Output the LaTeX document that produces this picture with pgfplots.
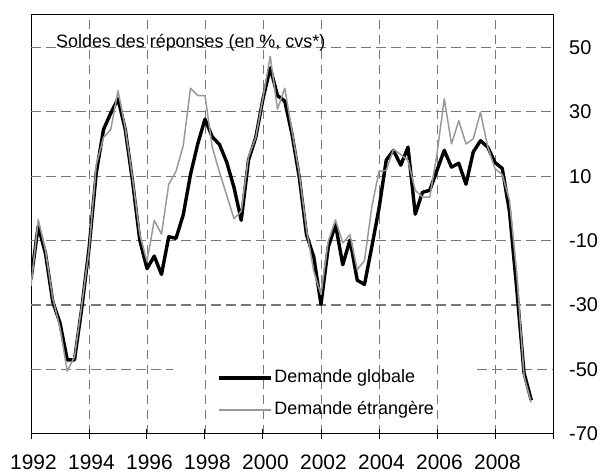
\documentclass[border=0pt]{standalone}
\usepackage{pgfplots}
\pgfplotsset{compat=1.18}
\usepackage{pgfplotstable}
\usepackage{fontspec}
\setmainfont{Liberation Sans}
\definecolor{lgray}{RGB}{153,153,153}
\definecolor{ggrid}{RGB}{120,120,120}

\pgfplotstableread{
year glob etr
1992.00 -22 -24
1992.25 -5.5 -3.5
1992.50 -14 -13
1992.75 -29 -28
1993.00 -35.5 -37
1993.25 -47 -50.5
1993.50 -47 -46
1993.75 -31 -30
1994.00 -12.5 -13
1994.25 11 13.5
1994.50 24.5 22
1994.75 29.5 24.5
1995.00 34 36.5
1995.25 24.5 25
1995.50 8.5 9.5
1995.75 -9.8 -8
1996.00 -18.7 -16.5
1996.25 -14.8 -3.7
1996.50 -20.5 -8
1996.75 -8.8 7.5
1997.00 -9.3 11.5
1997.25 -2 19.5
1997.50 10.5 37.3
1997.75 20 35
1998.00 27.7 35
1998.25 22.2 19
1998.50 19.8 11.2
1998.75 14.3 4
1999.00 6.5 -3.2
1999.25 -3.7 -0.9
1999.50 15 16
1999.75 22 22
2000.00 34 34.3
2000.25 43.6 47.2
2000.50 35 30.8
2000.75 33.3 37.3
2001.00 23 24
2001.25 9.7 10.8
2001.50 -8.2 -6.6
2001.75 -15 -19.5
2002.00 -29.8 -26.7
2002.25 -12 -10.2
2002.50 -5 -3.6
2002.75 -17.5 -10.7
2003.00 -9.8 -8.2
2003.25 -22.3 -19
2003.50 -23.6 -16.2
2003.75 -12 0.4
2004.00 0 11.5
2004.25 15 11.8
2004.50 18 18.4
2004.75 13.4 16.7
2005.00 19 14.9
2005.25 -1.8 5.6
2005.50 5 3.5
2005.75 5.6 3.5
2006.00 11.8 17
2006.25 18 34
2006.50 12.8 20
2006.75 14 27.2
2007.00 7.5 20
2007.25 17.5 21.6
2007.50 21 29.8
2007.75 19 19
2008.00 14.2 12.3
2008.25 12.4 10.5
2008.50 -1 2.5
2008.75 -25 -20
2009.00 -51 -52
2009.25 -59.5 -60.2
}\data

\begin{document}
\begin{tikzpicture}
\path[use as bounding box] (-31bp,-40bp) rectangle (573bp,434bp);
\begin{axis}[
  scale only axis,
  width=522bp, height=419bp,
  xmin=1992, xmax=2010, ymin=-70, ymax=60,
  xtick={1992,1994,...,2010},
  xticklabels={1992,1994,1996,1998,2000,2002,2004,2006,2008,{}},
  ytick={-70,-50,-30,-10,10,30,50},
  yticklabels={-70,-50,-30,-10,10,30,50},
  xtick pos=bottom, ytick pos=right,
  yticklabel pos=right,
  major tick length=10bp,
  x tick style={black, line width=1bp},
  xtick align=center,
  y tick style={draw=none},
  xticklabel style={font=\fontsize{21}{25}\selectfont, inner sep=0pt, anchor=north, yshift=-15.5bp, xshift=2.5bp},
  yticklabel style={font=\fontsize{20}{24}\selectfont, inner sep=0pt, anchor=west, xshift=16bp},
  xmajorgrids=true,
  major x grid style={ggrid, line width=0.8bp, dash pattern=on 9bp off 6bp},
  axis line style={black, line width=1bp},
  legend style={at={(axis cs:1998.41,-57.6)}, anchor=west, draw=none, fill=none,
    inner sep=0pt, font=\fontsize{18}{21}\selectfont, row sep=11bp,
    nodes={inner sep=2bp, text height=13bp, text depth=4bp}},
  legend cell align=left,
  legend image code/.code={\draw[#1] (0bp,0bp) -- (52bp,0bp);},
]
\draw[ggrid, line width=1.3bp, dash pattern=on 10bp off 5bp] (axis cs:1992,50) -- (axis cs:2010,50);
\draw[ggrid, line width=1.3bp, dash pattern=on 10bp off 5bp] (axis cs:1992,30) -- (axis cs:2010,30);
\draw[ggrid, line width=1.3bp, dash pattern=on 10bp off 5bp] (axis cs:1992,10) -- (axis cs:2010,10);
\draw[ggrid, line width=1.3bp, dash pattern=on 10bp off 5bp] (axis cs:1992,-10) -- (axis cs:2010,-10);
\draw[ggrid, line width=1.3bp, dash pattern=on 10bp off 5bp] (axis cs:1992,-30) -- (axis cs:2010,-30);
\draw[ggrid, line width=1.3bp, dash pattern=on 10bp off 5bp] (axis cs:1992,-50) -- (axis cs:1996.9,-50);
\draw[ggrid, line width=1.3bp, dash pattern=on 10bp off 5bp] (axis cs:2007.38,-50) -- (axis cs:2010,-50);
\node[anchor=base west, inner sep=0pt, font=\fontsize{18}{21}\selectfont] at (axis cs:1992.86,50) {Soldes des réponses (en \%, cvs*)};
\addplot[black, line width=3.4bp, line join=round] table[x=year, y=glob] {\data};
\addlegendentry{Demande globale}
\addplot[lgray, line width=1.5bp, line join=round] table[x=year, y=etr] {\data};
\addlegendentry{Demande étrangère}
\draw[black, line width=2.5bp] (rel axis cs:0,0) -- (rel axis cs:1,0);
\draw[black, line width=1bp] (axis cs:2010,50) -- ++(4bp,0pt);
\draw[black, line width=1bp] (axis cs:2010,30) -- ++(4bp,0pt);
\draw[black, line width=1bp] (axis cs:2010,10) -- ++(4bp,0pt);
\draw[black, line width=1bp] (axis cs:2010,-10) -- ++(4bp,0pt);
\draw[black, line width=1bp] (axis cs:2010,-30) -- ++(4bp,0pt);
\draw[black, line width=1bp] (axis cs:2010,-50) -- ++(4bp,0pt);
\draw[black, line width=1bp] (axis cs:2010,-70) -- ++(4bp,0pt);
\end{axis}
\end{tikzpicture}
\end{document}
